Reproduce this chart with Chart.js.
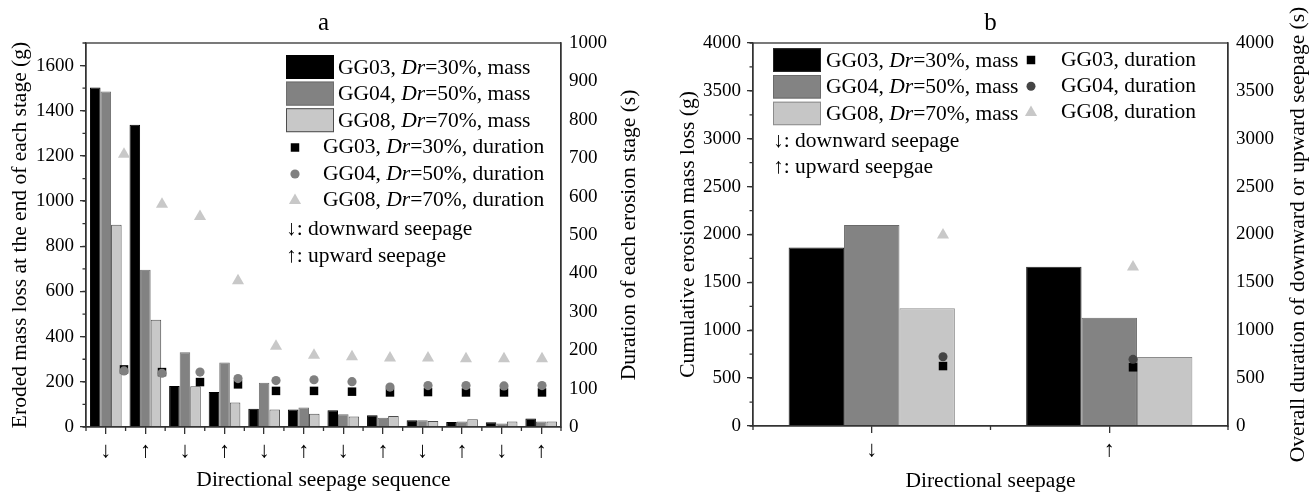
<!DOCTYPE html>
<html>
<head>
<meta charset="utf-8">
<script src="https://cdn.jsdelivr.net/npm/chart.js@4.4.1/dist/chart.umd.min.js"></script>
<style>
  html, body { margin: 0; padding: 0; background: #fff; }
  #wrap { position: relative; width: 1312px; height: 494px; }
  .pane { position: absolute; top: 0; width: 656px; height: 494px; }
  .pane canvas { position: absolute; left: 0; top: 0; }
  .pane canvas.dots { pointer-events: none; }
  #paneA { left: 0; }
  #paneB { left: 656px; }
</style>
</head>
<body>
<div id="wrap">
  <div class="pane" id="paneA">
    <canvas id="chartA" width="656" height="494"></canvas>
    <canvas id="dotsA" class="dots" width="656" height="494"></canvas>
  </div>
  <div class="pane" id="paneB">
    <canvas id="chartB" width="656" height="494"></canvas>
    <canvas id="dotsB" class="dots" width="656" height="494"></canvas>
  </div>
</div>
<script>
// ===== panel a : each erosion stage =====
const stageLabels = ['↓', '↑', '↓', '↑', '↓', '↑', '↓', '↑', '↓', '↑', '↓', '↑'];
const massGG03 = [1503, 1338, 181, 155, 81, 78, 74, 52, 30, 22, 21, 38];
const massGG04 = [1485, 696, 331, 285, 196, 86, 56, 41, 30, 24, 16, 24];
const massGG08 = [895, 475, 180, 108, 78, 59, 47, 49, 27, 34, 24, 24];
const durGG03 = [150, 143, 117, 111, 94, 94, 92, 90, 91, 90, 90, 90];
const durGG04 = [146, 140, 143, 126, 121, 123, 118, 104, 108, 108, 107, 108];
const durGG08 = [710, 580, 548, 381, 210, 187, 183, 180, 180, 178, 178, 178];

// ===== panel b : cumulative per direction =====
const dirLabels = ['↓', '↑'];
const totalGG03 = [1865, 1663];
const totalGG04 = [2098, 1131];
const totalGG08 = [1229, 720];
const overallGG03 = [626, 613];
const overallGG04 = [723, 696];
const overallGG08 = [1994, 1660];

// legend text pieces
const specimens = ['GG03', 'GG04', 'GG08'];
const relDensity = ['30%', '50%', '70%'];
const arrowNotesA = ['↓: downward seepage', '↑: upward seepage'];
const arrowNotesB = ['↓: downward seepage', '↑: upward seepgae'];

const SERIF = '"Liberation Serif", "Times New Roman", serif';
const AXIS = '#333';
Chart.defaults.font.family = SERIF;
Chart.defaults.color = '#000';

// 막대 데이터셋
function barSet(label, data, fill, border, catPct) {
  return {
    label, data,
    backgroundColor: fill, borderColor: border, borderWidth: 1,
    categoryPercentage: catPct, barPercentage: 1
  };
}

// 점 데이터셋 (선형축 1..n 위치)
function dotSet(label, values, color, style, radius, order) {
  return {
    label, order,
    data: values.map((v, i) => ({ x: i + 1, y: v })),
    backgroundColor: color, borderColor: color, borderWidth: 0,
    pointStyle: style, pointRadius: radius, pointBorderWidth: 0
  };
}

function font(size, italic) {
  return (italic ? 'italic ' : '') + size + 'px ' + SERIF;
}

function richText(ctx, x, y, parts, size) {
  ctx.textAlign = 'left';
  ctx.textBaseline = 'middle';
  ctx.fillStyle = '#000';
  parts.forEach(p => {
    ctx.font = font(size, p.i);
    ctx.fillText(p.t, x, y);
    x += ctx.measureText(p.t).width;
  });
}

function drPart(i, tail) {
  return [{ t: specimens[i] + ', ' }, { t: 'Dr', i: true }, { t: '=' + relDensity[i] + ', ' + tail }];
}

// 테두리, 보조 눈금, 제목, 범례
function decorations(cfg) {
  return {
    id: 'decor' + cfg.name,
    afterDraw(chart) {
      const { ctx, chartArea: area, scales } = chart;
      ctx.save();
      ctx.strokeStyle = AXIS;
      ctx.lineWidth = 1.3;
      ctx.strokeRect(area.left, area.top, area.right - area.left, area.bottom - area.top);

      ctx.beginPath();
      const y = scales.y;
      for (let v = y.min; v <= y.max; v += cfg.yMinor) {
        const p = y.getPixelForValue(v);
        ctx.moveTo(area.left, p);
        ctx.lineTo(area.left - 3.5, p);
      }
      const x = scales.x;
      for (let i = 0; i <= chart.data.labels.length; i++) {
        const p = x.getPixelForValue(i - 0.5);
        ctx.moveTo(p, area.bottom);
        ctx.lineTo(p, area.bottom + 4);
      }
      ctx.stroke();

      // 패널 제목
      ctx.fillStyle = '#000';
      ctx.font = font(25);
      ctx.textAlign = 'center';
      ctx.textBaseline = 'alphabetic';
      ctx.fillText(cfg.name, (area.left + area.right) / 2, 29.5);

      // 오른쪽 축 제목 (아래에서 위로)
      ctx.save();
      ctx.translate(cfg.rightTitleX, (area.top + area.bottom) / 2);
      ctx.rotate(-Math.PI / 2);
      ctx.font = font(21.5);
      ctx.textBaseline = 'middle';
      ctx.fillText(cfg.rightTitle, 0, 0);
      ctx.restore();

      // 범례
      const ds = chart.data.datasets;
      const L = cfg.legend;
      for (let i = 0; i < 3; i++) {
        const top = L.boxTop + i * L.boxStep;
        ctx.fillStyle = ds[i].backgroundColor;
        ctx.fillRect(L.boxX, top, L.boxW, L.boxH);
        ctx.strokeStyle = ds[i].borderColor;
        ctx.lineWidth = 1;
        ctx.strokeRect(L.boxX + 0.5, top + 0.5, L.boxW - 1, L.boxH - 1);
        richText(ctx, L.boxX + L.boxW + L.textGap, top + L.boxH / 2 + 1, drPart(i, 'mass'), 21.5);
      }
      cfg.dots.forEach((d, i) => {
        const cy = L.dotTop + i * L.dotStep;
        ctx.fillStyle = d.backgroundColor;
        Chart.helpers.drawPoint(ctx, { pointStyle: d.pointStyle, radius: d.pointRadius, rotation: 0, borderWidth: 0 }, L.dotX, cy);
        const parts = L.short ? [{ t: specimens[i] + ', duration' }] : drPart(i, 'duration');
        richText(ctx, L.dotTextX, cy, parts, 21.5);
      });
      L.notes.forEach((n, i) => {
        richText(ctx, L.boxX, L.noteTop + i * L.noteStep, [{ t: n }], 21.5);
      });
      ctx.restore();
    }
  };
}

function axisY(min, max, step, width, titleText, titlePad) {
  return {
    position: 'left', min, max,
    afterFit: s => { s.width = width; },
    ticks: { stepSize: step, includeBounds: false, padding: 6, font: { size: 19 }, format: { useGrouping: false } },
    grid: { drawOnChartArea: false, tickLength: 6, color: AXIS, lineWidth: 1.3 },
    border: { color: AXIS, width: 1.3 },
    title: { display: true, text: titleText, font: { size: 21.5 }, padding: { top: titlePad, bottom: 0 } }
  };
}

function axisY1(min, max, step, width) {
  return {
    position: 'right', min, max,
    afterFit: s => { s.width = width; },
    ticks: { stepSize: step, includeBounds: false, padding: 8, font: { size: 19 }, format: { useGrouping: false } },
    grid: { drawOnChartArea: false, drawTicks: false },
    border: { color: AXIS, width: 1.3 }
  };
}

function axisX(height, titleText, titlePadBottom) {
  return {
    type: 'category', offset: true,
    afterFit: s => { s.height = height; },
    grid: { drawOnChartArea: false, offset: false, tickLength: 7, color: AXIS, lineWidth: 1.3 },
    border: { color: AXIS, width: 1.3 },
    ticks: { font: { size: 22 }, padding: 4, maxRotation: 0, autoSkip: false },
    title: { display: true, text: titleText, font: { size: 21.5 }, padding: { top: 0, bottom: titlePadBottom } }
  };
}

const baseOptions = {
  responsive: false,
  animation: false,
  events: [],
  plugins: { legend: { display: false }, tooltip: { enabled: false } }
};

// 막대 차트 + 같은 영역에 겹치는 점 차트
function makePanel(p) {
  new Chart(document.getElementById(p.barCanvas), {
    type: 'bar',
    data: { labels: p.labels, datasets: p.bars },
    options: {
      ...baseOptions,
      layout: { padding: { top: p.area.top, left: 0, right: 0, bottom: 0 } },
      scales: {
        x: axisX(p.area.bottom, p.xTitle, p.xTitlePad),
        y: axisY(0, p.yMax, p.yStep, p.area.left, p.yTitle, p.yTitlePad),
        y1: axisY1(0, p.y1Max, p.y1Step, p.area.right)
      }
    },
    plugins: [decorations(p.decor)]
  });

  new Chart(document.getElementById(p.dotCanvas), {
    type: 'scatter',
    data: { datasets: p.dots },
    options: {
      ...baseOptions,
      layout: { padding: p.area },
      scales: {
        x: { type: 'linear', display: false, min: 0, max: p.labels.length + 0.5 },
        y: { type: 'linear', display: false, min: 0, max: p.y1Max }
      }
    }
  });
}

// ===== chart a =====
const dotsA = [
  dotSet('GG03 duration', durGG03, '#000000', 'rect', 6, 1),
  dotSet('GG04 duration', durGG04, '#808080', 'circle', 4.6, 0),
  dotSet('GG08 duration', durGG08, '#c8c8c8', 'triangle', 7, 2)
];
makePanel({
  barCanvas: 'chartA', dotCanvas: 'dotsA', labels: stageLabels,
  area: { top: 43, left: 86, right: 95, bottom: 67 },
  bars: [
    barSet('GG03 mass', massGG03, '#000000', '#000000', 0.8),
    barSet('GG04 mass', massGG04, '#828282', '#6e6e6e', 0.8),
    barSet('GG08 mass', massGG08, '#c8c8c8', '#4d4d4d', 0.8)
  ],
  dots: dotsA,
  yMax: 1700, yStep: 200, y1Max: 1000, y1Step: 100,
  xTitle: 'Directional seepage sequence', xTitlePad: 1,
  yTitle: 'Eroded mass loss at the end of each stage (g)', yTitlePad: 7,
  decor: {
    name: 'a', yMinor: 100, dots: dotsA,
    rightTitle: 'Duration of each erosion stage (s)', rightTitleX: 629,
    legend: {
      boxX: 286, boxW: 48, boxH: 24, boxTop: 55, boxStep: 26.6, textGap: 4,
      dotX: 295, dotTextX: 323, dotTop: 147.5, dotStep: 26.5, short: false,
      notes: arrowNotesA, noteTop: 229, noteStep: 27
    }
  }
});

// ===== chart b =====
const dotsB = [
  dotSet('GG03 duration', overallGG03, '#000000', 'rect', 6, 1),
  dotSet('GG04 duration', overallGG04, '#454545', 'circle', 4.5, 0),
  dotSet('GG08 duration', overallGG08, '#c8c8c8', 'triangle', 7, 2)
];
makePanel({
  barCanvas: 'chartB', dotCanvas: 'dotsB', labels: dirLabels,
  area: { top: 43, left: 97, right: 84, bottom: 68 },
  bars: [
    barSet('GG03 mass', totalGG03, '#000000', '#222222', 0.7),
    barSet('GG04 mass', totalGG04, '#838383', '#6a6a6a', 0.7),
    barSet('GG08 mass', totalGG08, '#c6c6c6', '#8c8c8c', 0.7)
  ],
  dots: dotsB,
  yMax: 4000, yStep: 500, y1Max: 4000, y1Step: 500,
  xTitle: 'Directional seepage', xTitlePad: 0,
  yTitle: 'Cumulative erosion mass loss (g)', yTitlePad: 19,
  decor: {
    name: 'b', yMinor: 250, dots: dotsB,
    rightTitle: 'Overall duration of downward or upward seepage (s)', rightTitleX: 642,
    legend: {
      boxX: 117, boxW: 48, boxH: 23.5, boxTop: 48.3, boxStep: 26.7, textGap: 5,
      dotX: 375, dotTextX: 405, dotTop: 60, dotStep: 26.3, short: true,
      notes: arrowNotesB, noteTop: 141.7, noteStep: 25.5
    }
  }
});
</script>
</body>
</html>
